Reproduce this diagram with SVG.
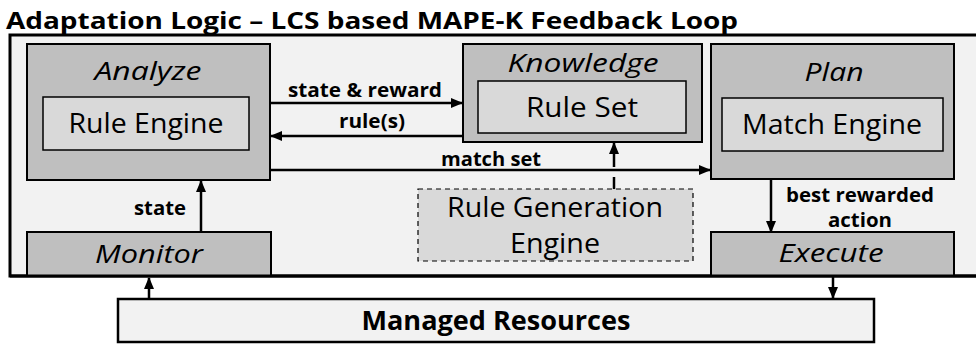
<svg xmlns="http://www.w3.org/2000/svg" width="976" height="345" viewBox="0 0 976 345">
  <defs>
    <marker id="arrow" markerUnits="userSpaceOnUse" markerWidth="12" markerHeight="12" viewBox="0 0 12 12" refX="11" refY="6" orient="auto">
      <path d="M0,1 L12,6 L0,11 Z" fill="#000"/>
    </marker>
    <style>
      text { font-family: "Open Sans", "Noto Sans", sans-serif; fill: #000; }
      .title { font-size: 24px; font-weight: bold; }
      .stage { fill: #bfbfbf; stroke: #000; stroke-width: 2; }
      .inner { fill: #d9d9d9; stroke: #000; stroke-width: 1.5; }
      .stagelabel { font-size: 26px; font-style: italic; text-anchor: middle; }
      .innerlabel { font-size: 27px; text-anchor: middle; }
      .edgelabel { font-size: 19.5px; font-weight: bold; text-anchor: middle; }
      .resources { font-size: 27px; font-weight: bold; text-anchor: middle; }
      .link { fill: none; stroke: #000; stroke-width: 2.5; }
    </style>
  </defs>

  <!-- heading -->
  <text class="title" x="6" y="29" textLength="732" lengthAdjust="spacingAndGlyphs">Adaptation Logic – LCS based MAPE-K Feedback Loop</text>

  <!-- adaptation logic frame -->
  <rect x="10" y="35" width="975" height="241" fill="#f2f2f2" stroke="#000" stroke-width="3"/>

  <g id="analyze">
    <rect class="stage" x="27" y="44" width="243" height="136"/>
    <text class="stagelabel" x="148" y="80" textLength="107" lengthAdjust="spacingAndGlyphs">Analyze</text>
    <rect class="inner" x="43" y="97" width="206" height="53"/>
    <text class="innerlabel" x="146" y="133" textLength="155" lengthAdjust="spacingAndGlyphs">Rule Engine</text>
  </g>

  <g id="knowledge">
    <rect class="stage" x="463" y="44" width="239" height="98"/>
    <text class="stagelabel" x="583" y="72" textLength="151" lengthAdjust="spacingAndGlyphs">Knowledge</text>
    <rect class="inner" x="478" y="81" width="208" height="52"/>
    <text class="innerlabel" x="582" y="117" textLength="112" lengthAdjust="spacingAndGlyphs">Rule Set</text>
  </g>

  <g id="plan">
    <rect class="stage" x="711" y="44" width="243" height="135"/>
    <text class="stagelabel" x="834" y="81" textLength="59" lengthAdjust="spacingAndGlyphs">Plan</text>
    <rect class="inner" x="722" y="98" width="221" height="53"/>
    <text class="innerlabel" x="832" y="134" textLength="180" lengthAdjust="spacingAndGlyphs">Match Engine</text>
  </g>

  <g id="rule-generation">
    <rect x="418" y="189" width="275" height="72" fill="#d9d9d9" stroke="#000" stroke-width="1.2" stroke-dasharray="5,4"/>
    <text class="innerlabel" x="555" y="217" textLength="216" lengthAdjust="spacingAndGlyphs">Rule Generation</text>
    <text class="innerlabel" x="555" y="253" textLength="90" lengthAdjust="spacingAndGlyphs">Engine</text>
  </g>

  <g id="monitor">
    <rect class="stage" x="27" y="232" width="244" height="44"/>
    <text class="stagelabel" x="149" y="263" textLength="108" lengthAdjust="spacingAndGlyphs">Monitor</text>
  </g>

  <g id="execute">
    <rect class="stage" x="711" y="232" width="243" height="44"/>
    <text class="stagelabel" x="831" y="262" textLength="105" lengthAdjust="spacingAndGlyphs">Execute</text>
  </g>

  <!-- frame bottom edge drawn over the lower stages -->
  <line x1="10" y1="276" x2="976" y2="276" stroke="#000" stroke-width="3"/>

  <g id="managed-resources">
    <rect x="118" y="299" width="756" height="43" fill="#f2f2f2" stroke="#000" stroke-width="2.5"/>
    <text class="resources" x="496" y="330" textLength="269" lengthAdjust="spacingAndGlyphs">Managed Resources</text>
  </g>

  <g id="connectors">
    <path class="link" d="M270,103 H462" marker-end="url(#arrow)"/>
    <path class="link" d="M463,136 H271" marker-end="url(#arrow)"/>
    <path class="link" d="M270,170 H710" marker-end="url(#arrow)"/>
    <path class="link" d="M614,189 V177"/>
    <path class="link" d="M614,167 V143" marker-end="url(#arrow)"/>
    <path class="link" d="M201,232 V181" marker-end="url(#arrow)"/>
    <path class="link" d="M771,179 V232" marker-end="url(#arrow)"/>
    <path class="link" d="M149,299 V278" marker-end="url(#arrow)"/>
    <path class="link" d="M833,276 V298" marker-end="url(#arrow)"/>

    <text class="edgelabel" x="365" y="97" textLength="154" lengthAdjust="spacingAndGlyphs">state &amp; reward</text>
    <text class="edgelabel" x="372" y="128" textLength="66" lengthAdjust="spacingAndGlyphs">rule(s)</text>
    <text class="edgelabel" x="491" y="166" textLength="100" lengthAdjust="spacingAndGlyphs">match set</text>
    <text class="edgelabel" x="160" y="215" textLength="52" lengthAdjust="spacingAndGlyphs">state</text>
    <text class="edgelabel" x="860" y="202" textLength="148" lengthAdjust="spacingAndGlyphs">best rewarded</text>
    <text class="edgelabel" x="860" y="227" textLength="64" lengthAdjust="spacingAndGlyphs">action</text>
  </g>
</svg>
